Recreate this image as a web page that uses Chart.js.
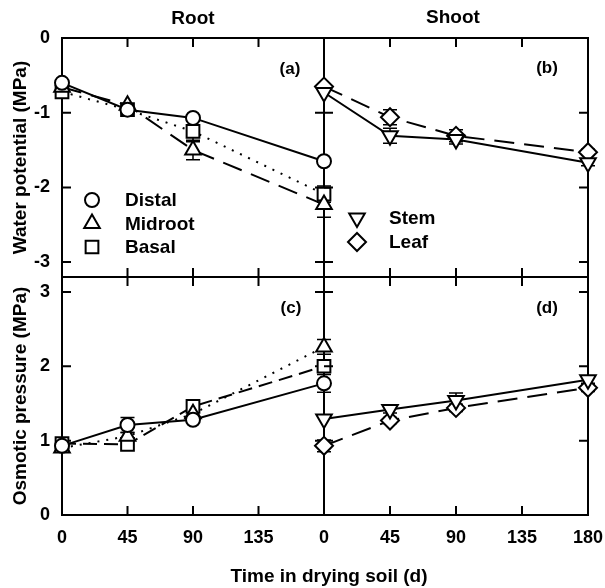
<!DOCTYPE html>
<html>
<head>
<meta charset="utf-8">
<script src="https://cdn.jsdelivr.net/npm/chart.js@4.4.1/dist/chart.umd.min.js"></script>
<style>
    html, body { margin: 0; padding: 0; background: #fff; }
    #wrap { position: relative; width: 605px; height: 588px; }
    #wrap canvas { position: absolute; left: 0; top: 0; }
</style>
</head>
<body>
<div id="wrap">
    <canvas id="chartA" width="605" height="588"></canvas>
    <canvas id="chartB" width="605" height="588"></canvas>
    <canvas id="chartC" width="605" height="588"></canvas>
    <canvas id="chartD" width="605" height="588"></canvas>
</div>
<script>
// Günler (x ekseni)
const days = [0, 45, 90, 180];
const rootDayTicks = [0, 45, 90, 135];
const shootDayTicks = [0, 45, 90, 135, 180];
const waterTicks = [0, -1, -2, -3];
const osmoticTicks = [0, 1, 2, 3];

// (a) Kök - su potansiyeli (MPa)
const distalWP = [-0.6, -0.96, -1.07, -1.65];
const distalWPErr = [0, 0, 0.04, 0];
const midrootWP = [-0.66, -0.9, -1.5, -2.23];
const midrootWPErr = [0, 0, 0.13, 0.17];
const basalWP = [-0.72, -0.96, -1.25, -2.09];
const basalWPErr = [0, 0, 0.14, 0.11];

// (b) Gövde / yaprak - su potansiyeli
const stemWP = [-0.73, -1.31, -1.36, -1.67];
const stemWPErr = [0, 0.1, 0.06, 0.04];
const leafWP = [-0.65, -1.06, -1.31, -1.53];
const leafWPErr = [0, 0.1, 0.08, 0.04];

// (c) Kök - ozmotik basınç (MPa)
const distalOP = [0.93, 1.21, 1.28, 1.77];
const distalOPErr = [0, 0.1, 0.03, 0.12];
const midrootOP = [0.9, 1.06, 1.36, 2.26];
const midrootOPErr = [0, 0.05, 0.1, 0.1];
const basalOP = [0.96, 0.95, 1.46, 2.0];
const basalOPErr = [0.05, 0, 0.03, 0.08];

// (d) Gövde / yaprak - ozmotik basınç
const stemOP = [1.29, 1.42, 1.54, 1.82];
const stemOPErr = [0, 0.05, 0.1, 0.05];
const leafOP = [0.93, 1.27, 1.44, 1.71];
const leafOPErr = [0.08, 0.04, 0.05, 0.05];

Chart.defaults.font.family = '"Liberation Sans", Arial, Helvetica, sans-serif';
Chart.defaults.font.weight = 'bold';
Chart.defaults.color = '#000';

// Marker ve çizgi stilleri
const circle = { pointStyle: 'circle', pointRadius: 7 };
const triUp = { pointStyle: 'triangle', pointRadius: 9 };
const square = { pointStyle: 'rect', pointRadius: 9 };
const triDown = { pointStyle: 'triangle', pointRadius: 9, pointRotation: 180 };
const diamond = { pointStyle: 'rectRot', pointRadius: 9 };
const solid = [];
const longDash = [20, 10];
const medDash = [14, 7];
const dotted = [2, 7];

function series(label, ys, errs, marker, dash) {
    return Object.assign({
        label: label,
        data: days.map((d, i) => ({ x: d, y: ys[i] })),
        errors: errs,
        borderColor: '#000',
        borderWidth: 2,
        borderDash: dash,
        pointBackgroundColor: '#fff',
        pointBorderColor: '#000',
        pointBorderWidth: 2,
        clip: false,
        tension: 0,
        fill: false
    }, marker);
}

function xScale(show, tickVals) {
    return {
        type: 'linear', min: 0, max: 180, display: show,
        grid: { display: false, drawTicks: false },
        border: { display: false },
        ticks: { padding: 12, font: { size: 18 }, autoSkip: false, maxRotation: 0 },
        afterBuildTicks: s => { s.ticks = tickVals.map(v => ({ value: v })); },
        afterFit: s => {
            if (show) s.height = 40;
            s.paddingLeft = 0;
            s.paddingRight = 0;
        }
    };
}

function yScale(show, lo, hi, tickVals, title) {
    return {
        type: 'linear', min: lo, max: hi, display: show,
        grid: { display: false, drawTicks: false },
        border: { display: false },
        ticks: { padding: 12, font: { size: 18 } },
        title: { display: !!title, text: title || '', font: { size: 19 }, padding: { top: 9, bottom: 0 } },
        afterBuildTicks: s => { s.ticks = tickVals.map(v => ({ value: v })); },
        afterFit: s => {
            if (show) s.width = 62;
            s.paddingTop = 0;
            s.paddingBottom = 0;
        }
    };
}

// Çerçeve ve içe dönük tik çizgileri
const framePlugin = {
    id: 'frame',
    beforeDatasetsDraw(chart, args, opts) {
        const { ctx, chartArea: a, scales } = chart;
        ctx.save();
        ctx.strokeStyle = '#000';
        ctx.lineWidth = 2;
        ctx.lineCap = 'square';
        ctx.beginPath();
        if (opts.edges.includes('t')) { ctx.moveTo(a.left, a.top); ctx.lineTo(a.right, a.top); }
        if (opts.edges.includes('b')) { ctx.moveTo(a.left, a.bottom); ctx.lineTo(a.right, a.bottom); }
        if (opts.edges.includes('l')) { ctx.moveTo(a.left, a.top); ctx.lineTo(a.left, a.bottom); }
        if (opts.edges.includes('r')) { ctx.moveTo(a.right, a.top); ctx.lineTo(a.right, a.bottom); }
        ctx.stroke();

        const tl = 9;
        ctx.lineCap = 'butt';
        ctx.beginPath();
        opts.xTicks.forEach(v => {
            if (v <= scales.x.min || v >= scales.x.max) return;
            const px = scales.x.getPixelForValue(v);
            ctx.moveTo(px, a.top); ctx.lineTo(px, a.top + tl);
            ctx.moveTo(px, a.bottom); ctx.lineTo(px, a.bottom - tl);
        });
        opts.yTicks.forEach(v => {
            if (v <= scales.y.min || v >= scales.y.max) return;
            const py = scales.y.getPixelForValue(v);
            ctx.moveTo(a.left, py); ctx.lineTo(a.left + tl, py);
            ctx.moveTo(a.right, py); ctx.lineTo(a.right - tl, py);
        });
        ctx.stroke();
        ctx.restore();
    }
};

// Hata çubukları
const errorBarPlugin = {
    id: 'errorBars',
    beforeDatasetsDraw(chart) {
        const { ctx } = chart;
        const yScale = chart.scales.y;
        ctx.save();
        ctx.strokeStyle = '#000';
        ctx.lineWidth = 1.5;
        chart.data.datasets.forEach((ds, di) => {
            if (!ds.errors) return;
            const meta = chart.getDatasetMeta(di);
            meta.data.forEach((pt, i) => {
                const e = ds.errors[i];
                if (!e) return;
                const v = ds.data[i].y;
                const y1 = yScale.getPixelForValue(v + e);
                const y2 = yScale.getPixelForValue(v - e);
                ctx.beginPath();
                ctx.moveTo(pt.x, y1); ctx.lineTo(pt.x, y2);
                ctx.moveTo(pt.x - 7, y1); ctx.lineTo(pt.x + 7, y1);
                ctx.moveTo(pt.x - 7, y2); ctx.lineTo(pt.x + 7, y2);
                ctx.stroke();
            });
        });
        ctx.restore();
    }
};

// Panel içi lejant
const innerLegendPlugin = {
    id: 'innerLegend',
    afterDatasetsDraw(chart, args, opts) {
        if (!opts.show) return;
        const { ctx, chartArea: a } = chart;
        ctx.save();
        chart.data.datasets.forEach((ds, i) => {
            const x = a.left + opts.dx;
            const y = a.top + opts.dy + i * opts.step;
            ctx.fillStyle = '#fff';
            ctx.strokeStyle = '#000';
            ctx.lineWidth = 2;
            Chart.helpers.drawPoint(ctx, {
                pointStyle: ds.pointStyle,
                radius: ds.pointRadius,
                rotation: ds.pointRotation || 0,
                borderWidth: 2
            }, x, y);
            ctx.fillStyle = '#000';
            ctx.font = 'bold 19px "Liberation Sans", Arial, sans-serif';
            ctx.textAlign = 'left';
            ctx.textBaseline = 'middle';
            ctx.fillText(ds.label, x + opts.textGap, y + 1);
        });
        ctx.restore();
    }
};

// Başlıklar ve panel etiketleri
const textPlugin = {
    id: 'panelText',
    afterDraw(chart, args, opts) {
        const { ctx, chartArea: a } = chart;
        ctx.save();
        ctx.fillStyle = '#000';
        ctx.textAlign = 'center';
        ctx.textBaseline = 'middle';
        opts.items.forEach(it => {
            let x = it.ax === 'left' ? a.left : it.ax === 'right' ? a.right : (a.left + a.right) / 2;
            let y = it.ay === 'top' ? a.top : a.bottom;
            ctx.font = 'bold ' + it.size + 'px "Liberation Sans", Arial, sans-serif';
            ctx.fillText(it.text, x + it.dx, y + it.dy);
        });
        ctx.restore();
    }
};

function makePanel(id, cfg) {
    return new Chart(document.getElementById(id), {
        type: 'line',
        data: { datasets: cfg.datasets },
        options: {
            responsive: false,
            animation: false,
            layout: { padding: cfg.padding },
            scales: { x: cfg.x, y: cfg.y },
            plugins: {
                legend: { display: false },
                tooltip: { enabled: false },
                frame: { edges: cfg.edges, xTicks: cfg.xTicks, yTicks: cfg.yTicks },
                innerLegend: cfg.legend,
                panelText: { items: cfg.texts }
            }
        },
        plugins: [framePlugin, errorBarPlugin, innerLegendPlugin, textPlugin]
    });
}

// (a)
makePanel('chartA', {
    padding: { left: 0, top: 38, right: 281, bottom: 311 },
    x: xScale(false, rootDayTicks),
    y: yScale(true, -3.2, 0, waterTicks, 'Water potential (MPa)'),
    edges: 'tblr', xTicks: rootDayTicks, yTicks: waterTicks,
    legend: { show: true, dx: 30, dy: 162, step: 23.5, textGap: 33 },
    texts: [
        { text: 'Root', ax: 'center', dx: 0, ay: 'top', dy: -19, size: 19 },
        { text: '(a)', ax: 'right', dx: -34, ay: 'top', dy: 31, size: 17 }
    ],
    datasets: [
        series('Distal', distalWP, distalWPErr, circle, solid),
        series('Midroot', midrootWP, midrootWPErr, triUp, longDash),
        series('Basal', basalWP, basalWPErr, square, dotted)
    ]
});

// (b)
makePanel('chartB', {
    padding: { left: 324, top: 38, right: 17, bottom: 311 },
    x: xScale(false, shootDayTicks),
    y: yScale(false, -3.2, 0, waterTicks, null),
    edges: 'tbr', xTicks: shootDayTicks, yTicks: waterTicks,
    legend: { show: true, dx: 33, dy: 180, step: 24, textGap: 32 },
    texts: [
        { text: 'Shoot', ax: 'center', dx: -3, ay: 'top', dy: -20, size: 19 },
        { text: '(b)', ax: 'right', dx: -41, ay: 'top', dy: 30, size: 17 }
    ],
    datasets: [
        series('Stem', stemWP, stemWPErr, triDown, solid),
        series('Leaf', leafWP, leafWPErr, diamond, longDash)
    ]
});

// (c)
makePanel('chartC', {
    padding: { left: 0, top: 277, right: 281, bottom: 33 },
    x: xScale(true, rootDayTicks),
    y: yScale(true, 0, 3.2, osmoticTicks, 'Osmotic pressure (MPa)'),
    edges: 'blr', xTicks: rootDayTicks, yTicks: osmoticTicks,
    legend: { show: false },
    texts: [
        { text: '(c)', ax: 'right', dx: -33, ay: 'top', dy: 31, size: 17 }
    ],
    datasets: [
        series('Distal', distalOP, distalOPErr, circle, solid),
        series('Midroot', midrootOP, midrootOPErr, triUp, dotted),
        series('Basal', basalOP, basalOPErr, square, medDash)
    ]
});

// (d)
makePanel('chartD', {
    padding: { left: 324, top: 277, right: 17, bottom: 33 },
    x: xScale(true, shootDayTicks),
    y: yScale(false, 0, 3.2, osmoticTicks, null),
    edges: 'br', xTicks: shootDayTicks, yTicks: osmoticTicks,
    legend: { show: false },
    texts: [
        { text: '(d)', ax: 'right', dx: -41, ay: 'top', dy: 31, size: 17 },
        { text: 'Time in drying soil (d)', ax: 'left', dx: 5, ay: 'bottom', dy: 62, size: 19 }
    ],
    datasets: [
        series('Stem', stemOP, stemOPErr, triDown, solid),
        series('Leaf', leafOP, leafOPErr, diamond, longDash)
    ]
});
</script>
</body>
</html>
